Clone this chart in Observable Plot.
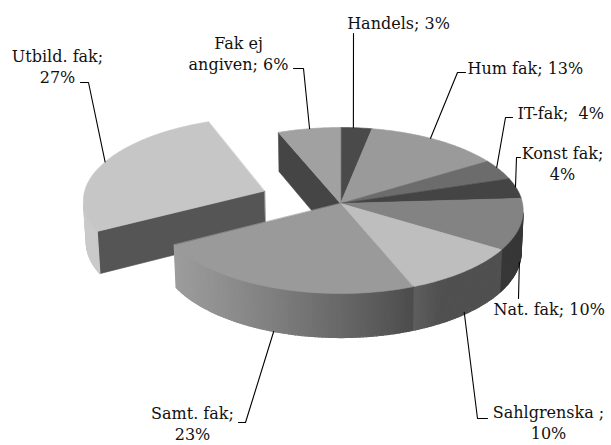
<!DOCTYPE html>
<html>
<head>
<meta charset="utf-8">
<script src="https://cdn.jsdelivr.net/npm/d3@7"></script>
<script src="https://cdn.jsdelivr.net/npm/@observablehq/plot@0.6"></script>
<style>
  html, body { margin: 0; padding: 0; background: #ffffff; }
  #chart svg { display: block; }
</style>
</head>
<body>
<div id="chart"></div>
<script>
// ---- data ----
const categories = ["Handels", "Hum fak", "IT-fak", "Konst fak", "Nat. fak", "Sahlgrenska", "Samt. fak", "Utbild. fak", "Fak ej angiven"];
const shares = [3, 13, 4, 4, 10, 10, 23, 27, 6];
const labelTexts = ["Handels; 3%", "Hum fak; 13%", "IT-fak;\u00a0 4%", "Konst fak;\n4%", "Nat. fak; 10%", "Sahlgrenska ;\n10%", "Samt. fak;\n23%", "Utbild. fak;\n27%", "Fak ej\nangiven; 6%"];

// ---- styles / layout ----
const topGrays = ["#4a4a4a", "#9a9a9a", "#6c6c6c", "#444444", "#838383", "#bebebe", "#9a9a9a", "#c6c6c6", "#a1a1a1"];
const explode = [0, 0, 0, 0, 0, 0, 0, 0.45, 0];
const W = 611, Hgt = 445;
const CX = 340, CY = 203, FOC = 1926, DIST = 10.58, ELEV = Math.asin(0.4527), DEPTH = 0.2576;
const cE = Math.cos(ELEV), sE = Math.sin(ELEV);
const cam = [0, -DIST * cE, DIST * sE];

// label layout: [x, y, anchor], leader: elbow points + rim angle (deg) + depth fraction
const labelPos = [
  [398, 22, "middle"], [467, 67, "start"], [517, 112, "start"], [562, 162, "middle"],
  [493, 308, "start"], [548, 421, "middle"], [192, 422, "middle"], [57, 65, "middle"], [238, 52, "middle"]
];
const leaders = [
  {pts: [[353, 33]], ang: 4.4, zf: 0},
  {pts: [[465, 72], [457, 72]], ang: 32, zf: 0},
  {pts: [[512, 117], [505, 117]], ang: 63, zf: 0},
  {pts: [[520, 157], [516, 157]], ang: 78, zf: 0},
  {pts: [[518, 298]], ang: 103, zf: 0.95},
  {pts: [[487, 418], [477, 418]], ang: 140, zf: 0.95},
  {pts: [[238, 422], [245, 422]], ang: 200, zf: 1},
  {pts: [[80, 82], [88, 82]], ang: 292, zf: 0},
  {pts: [[293, 68], [303, 68]], ang: 349.4, zf: 0}
];

function proj(X, Y, Z) {
  const w = DIST + Y * cE - Z * sE;
  return {x: CX + FOC * X / w, y: CY - FOC * (Z * cE + Y * sE) / w, w};
}
function shadeColor(hex, f) {
  const c = d3.rgb(hex);
  const k = v => Math.max(0, Math.min(255, Math.round(v * f)));
  return d3.rgb(k(c.r), k(c.g), k(c.b)).formatHex();
}
function wallFactor(deg) {
  return Math.min(1.02, Math.max(0.42, 0.55 + 0.48 * Math.cos((deg - 255) * Math.PI / 180)));
}

const arcs = d3.pie().sort(null).value(d => d)(shares);
const slices = arcs.map((a, i) => {
  const mid = (a.startAngle + a.endAngle) / 2;
  const ox = explode[i] * Math.sin(mid), oy = explode[i] * Math.cos(mid);
  return {i, a0: a.startAngle, a1: a.endAngle, ox, oy};
});

const faces = [];
const sliceOrder = [];
for (const s of slices) {
  const {i, a0, a1, ox, oy} = s;
  const n = Math.max(2, Math.ceil((a1 - a0) / (Math.PI / 180)));
  const angs = d3.range(n + 1).map(k => a0 + (a1 - a0) * k / n);
  const P = (t, r, z) => [ox + r * Math.sin(t), oy + r * Math.cos(t), z];
  const sliceFaces = [];
  // outer wall
  for (let k = 0; k < n; k++) {
    const t0 = angs[k], t1 = angs[k + 1], tm = (t0 + t1) / 2;
    const pm = P(tm, 1, -DEPTH / 2);
    const nrm = [Math.sin(tm), Math.cos(tm), 0];
    const dot = nrm[0] * (cam[0] - pm[0]) + nrm[1] * (cam[1] - pm[1]) + nrm[2] * (cam[2] - pm[2]);
    if (dot <= 0) continue;
    const pts = [P(t0, 1, 0), P(t1, 1, 0), P(t1, 1, -DEPTH), P(t0, 1, -DEPTH)];
    sliceFaces.push({pts, fill: shadeColor(topGrays[i], wallFactor(tm * 180 / Math.PI)), sw: 1.2});
  }
  // radial faces (only where a gap exists)
  const prevEx = explode[(i + slices.length - 1) % slices.length], nextEx = explode[(i + 1) % slices.length];
  const radial = [];
  if (explode[i] > 0 || prevEx > 0) radial.push({t: a0, nrm: [-Math.cos(a0), Math.sin(a0), 0]});
  if (explode[i] > 0 || nextEx > 0) radial.push({t: a1, nrm: [Math.cos(a1), -Math.sin(a1), 0]});
  for (const r of radial) {
    const pm = P(r.t, 0.5, -DEPTH / 2);
    const dot = r.nrm[0] * (cam[0] - pm[0]) + r.nrm[1] * (cam[1] - pm[1]) + r.nrm[2] * (cam[2] - pm[2]);
    if (dot <= 0) continue;
    const pts = [P(r.t, 0, 0), P(r.t, 1, 0), P(r.t, 1, -DEPTH), P(r.t, 0, -DEPTH)];
    sliceFaces.push({pts, fill: shadeColor(topGrays[i], 0.43), sw: 0.6});
  }
  // depth sort walls (far first)
  sliceFaces.forEach(f => f.w = d3.mean(f.pts, p => proj(...p).w));
  sliceFaces.sort((a, b) => b.w - a.w);
  // top face
  const topPts = [P(0, 0, 0), ...angs.map(t => P(t, 1, 0))];
  sliceFaces.push({pts: topPts, fill: topGrays[i], sw: 0.6});
  const cen = P((a0 + a1) / 2, 0.6, 0);
  sliceOrder.push({faces: sliceFaces, w: proj(...cen).w});
}
sliceOrder.sort((a, b) => b.w - a.w);
let fid = 0;
const faceRows = [];
for (const so of sliceOrder) {
  for (const f of so.faces) {
    const id = fid++;
    for (const p of f.pts) {
      const q = proj(...p);
      faceRows.push({id, x: q.x, y: q.y, fill: f.fill, sw: f.sw});
    }
  }
}

// leaders
const leaderRows = [];
leaders.forEach((L, i) => {
  const s = slices[i];
  const t = L.ang * Math.PI / 180;
  const end = proj(s.ox + Math.sin(t), s.oy + Math.cos(t), -DEPTH * L.zf);
  for (const p of L.pts) leaderRows.push({id: i, x: p[0], y: p[1]});
  leaderRows.push({id: i, x: end.x, y: end.y});
});

const labelRows = labelTexts.map((t, i) => ({text: t, x: labelPos[i][0], y: labelPos[i][1], anchor: labelPos[i][2], cat: categories[i]}));

const textOpts = {x: "x", y: "y", text: "text", fill: "#111111", fontFamily: "DejaVu Serif", fontSize: 16, lineHeight: 1.3};
const chart = Plot.plot({
  width: W, height: Hgt, margin: 0,
  x: {domain: [0, W], range: [0, W], axis: null},
  y: {domain: [0, Hgt], range: [0, Hgt], axis: null},
  color: {type: "identity"},
  style: {background: "#ffffff", fontFamily: "DejaVu Serif"},
  marks: [
    Plot.line(faceRows, {x: "x", y: "y", z: "id", fill: "fill", stroke: "fill", strokeWidth: "sw", curve: "linear-closed"}),
    Plot.line(leaderRows, {x: "x", y: "y", z: "id", stroke: "#000000", strokeWidth: 1.1}),
    Plot.text(labelRows.filter(d => d.anchor === "start"), {...textOpts, textAnchor: "start"}),
    Plot.text(labelRows.filter(d => d.anchor === "middle"), {...textOpts, textAnchor: "middle"})
  ]
});
document.getElementById("chart").appendChild(chart);
</script>
</body>
</html>
